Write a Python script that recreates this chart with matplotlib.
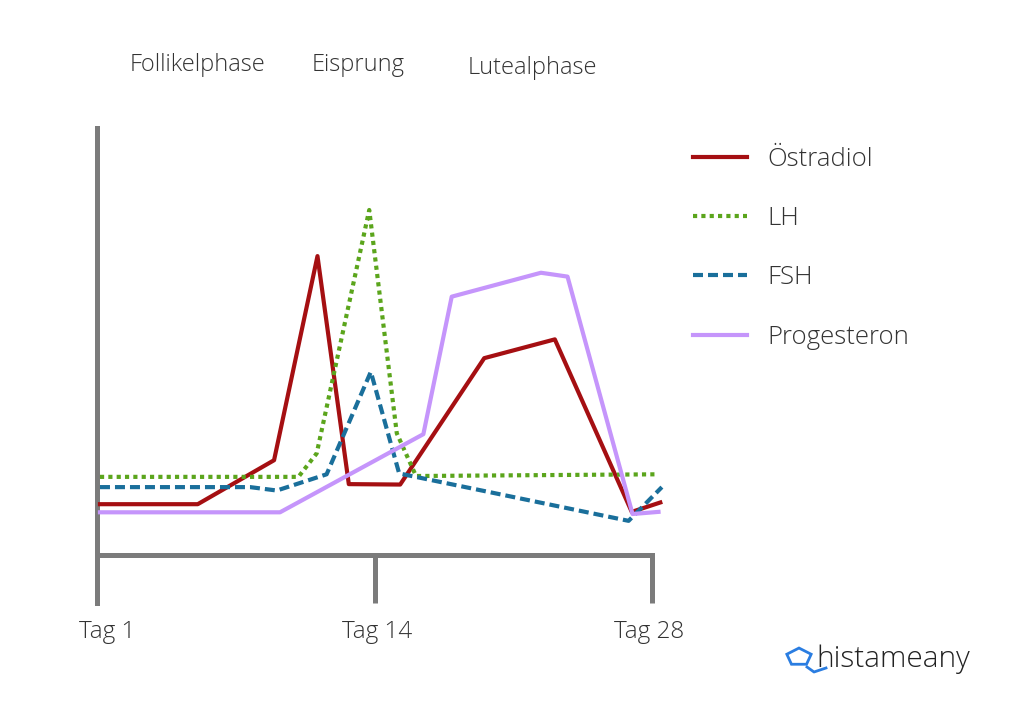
import matplotlib.pyplot as plt
import matplotlib.transforms as mtransforms
from matplotlib.patches import RegularPolygon
from matplotlib.lines import Line2D

plt.rcParams['font.family'] = ['Open Sans', 'DejaVu Sans']
plt.rcParams['font.weight'] = 'light'

# cycle position (0 = Tag 1, 28 = Tag 28) and relative hormone level
oestradiol_x = [0.15, 5.08, 8.93, 11.12, 12.70, 15.29, 19.53, 23.09, 26.97, 28.41]
oestradiol_y = [11.9, 11.9, 22.2, 70.0, 16.6, 16.5, 46.1, 50.5, 10.1, 12.3]

lh_x = [0.15, 10.16, 11.08, 13.73, 15.12, 16.09, 28.30]
lh_y = [18.3, 18.3, 23.8, 80.8, 28.5, 18.5, 18.9]

fsh_x = [0.15, 7.72, 9.07, 11.58, 13.81, 15.24, 26.81, 28.49]
fsh_y = [15.9, 15.9, 15.1, 18.9, 42.9, 19.1, 8.0, 15.9]

prog_x = [0.15, 9.23, 16.46, 17.89, 22.39, 23.73, 27.01, 28.32]
prog_y = [10.0, 10.0, 28.3, 60.5, 66.1, 65.2, 9.6, 10.1]

tick_pos = [0, 14, 28]
tick_labels = ['Tag 1', 'Tag 14', 'Tag 28']

phases = ['Follikelphase', 'Eisprung', 'Lutealphase']

grey = '#7b7b7b'
txt = '#333333'

fig = plt.figure(figsize=(10.24, 7.17), dpi=100)
ax = fig.add_axes([97 / 1024, (717 - 603) / 717, 575 / 1024, 475 / 717])

ax.plot(oestradiol_x, oestradiol_y, color='#a50f12', lw=3, label='Östradiol', zorder=3)
ax.plot(lh_x, lh_y, color='#5ba51c', lw=3, dashes=(1, 1), label='LH', zorder=3)
ax.plot(fsh_x, fsh_y, color='#1a6f9b', lw=3, dashes=(2.4, 1.2), label='FSH', zorder=3)
ax.plot(prog_x, prog_y, color='#c595fb', lw=3, label='Progesteron', zorder=3)

ax.set_xlim(0, 29)
ax.set_ylim(-11.24, 100)

for s in ['top', 'right']:
    ax.spines[s].set_visible(False)
ax.spines['left'].set_color(grey)
ax.spines['left'].set_linewidth(3.6)
ax.spines['bottom'].set_color(grey)
ax.spines['bottom'].set_linewidth(3.6)
ax.spines['bottom'].set_position(('data', 0))
ax.spines['bottom'].set_bounds(0, 28)

ax.set_yticks([])
ax.set_xticks(tick_pos)
ax.set_xticklabels(tick_labels)
ax.tick_params(axis='x', direction='out', length=34.5, width=3.6, color=grey,
               labelsize=17.5, labelcolor=txt, pad=12)
# nudge labels a little like in the original
for lab, dx in zip(ax.get_xticklabels(), [10, 3, -3]):
    lab.set_transform(lab.get_transform() + mtransforms.ScaledTranslation(dx / 100, 0, fig.dpi_scale_trans))

# phase titles above the plot
phase_pos = [(198, 65), (358, 65), (532, 68)]
for name, (px, py) in zip(phases, phase_pos):
    fig.text(px / 1024, 1 - py / 717, name, ha='center', va='center', fontsize=17, color=txt)

fig.legend(loc='upper left', bbox_to_anchor=(693 / 1024, 1 - 147 / 717), frameon=False,
           fontsize=18.5, handlelength=2.1, handletextpad=0.78, labelspacing=1.33,
           borderpad=0, borderaxespad=0, labelcolor=txt)

# logo
logo = RegularPolygon((799 / 1024, 1 - 657 / 717), numVertices=5, radius=0.0125,
                      transform=fig.transFigure, fill=False, edgecolor='#2a7de1', lw=2)
fig.add_artist(logo)
fig.add_artist(Line2D([807 / 1024, 814 / 1024, 826 / 1024], [1 - 667 / 717, 1 - 672 / 717, 1 - 668 / 717],
                      transform=fig.transFigure, color='#2a7de1', lw=2))
fig.text(816 / 1024, 1 - 659 / 717, 'histameany', ha='left', va='center', fontsize=21.5, color='#222222')

fig.savefig('out.png', dpi=100)
